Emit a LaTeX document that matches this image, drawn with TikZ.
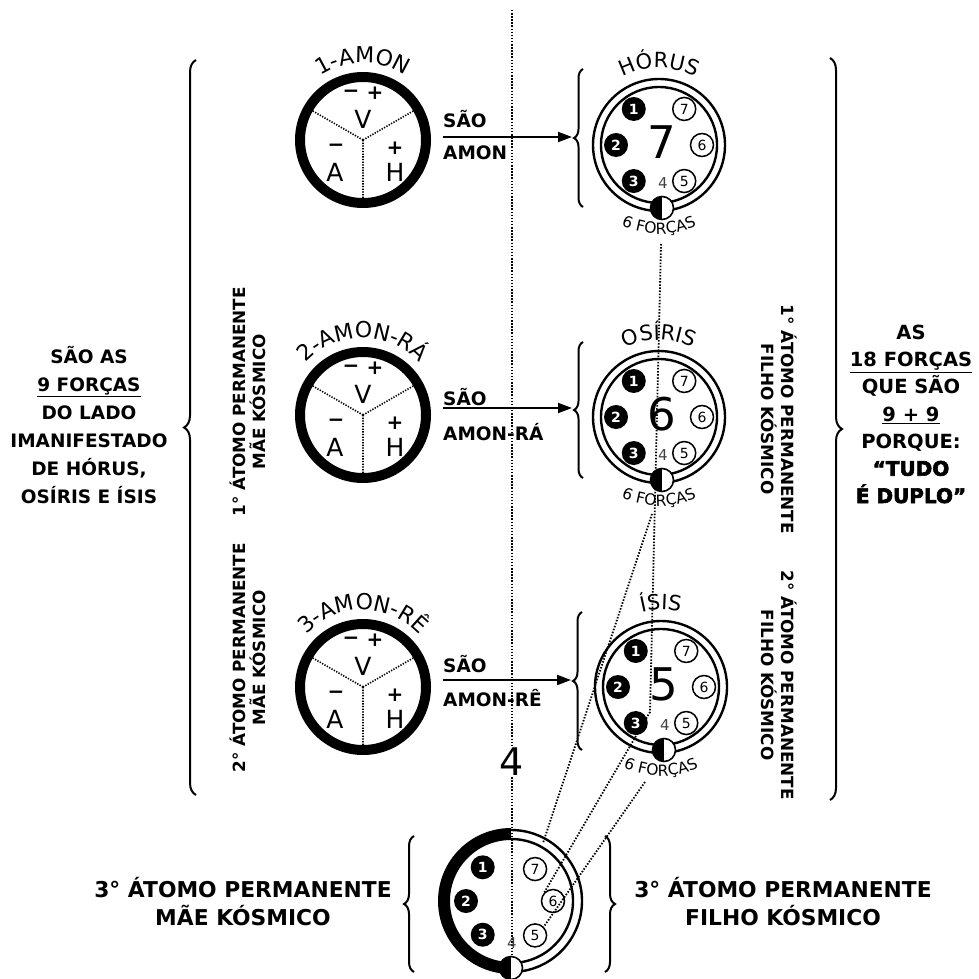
\documentclass[tikz,border=0pt]{standalone}
\usepackage{fontspec}
\setmainfont{DejaVu Sans}
\newfontfamily\heavy[BoldFeatures={FakeBold=3}]{DejaVu Sans}
\usetikzlibrary{decorations.pathreplacing,decorations.text,arrows.meta,calc}
\newcommand\fsz[1]{\fontsize{#1}{#1}\selectfont}
\tikzset{
  brc/.style={decorate, decoration={brace, amplitude=#1}, line width=2pt},
  dotl/.style={line width=1.8pt, dash pattern=on 1.5pt off 1.6pt},
  dotin/.style={line width=1.6pt, dash pattern=on 1.3pt off 1.4pt},
  ring/.style={line width=2.4pt},
  blk/.style={circle, fill=black, text=white, minimum size=24pt, inner sep=0pt, font=\bfseries\fsz{14}},
  wht/.style={circle, draw=black, line width=1.5pt, fill=white, minimum size=23pt, inner sep=0pt, font=\fsz{14}},
  halfd/.style={circle, draw=black, line width=1.6pt, fill=white, minimum size=23pt, inner sep=0pt,
     path picture={\fill[black] (path picture bounding box.north) rectangle (path picture bounding box.south west);}},
  lbl/.style={font=\bfseries\fontsize{18.5}{28}\selectfont, align=center, inner sep=0pt},
  vlbl/.style={font=\bfseries\fontsize{16.8}{19.5}\selectfont, align=center, inner sep=0pt},
  sao/.style={font=\bfseries\fsz{18.5}, anchor=west, inner sep=0pt},
  sym/.style={font=\bfseries\fsz{20}, inner sep=0pt},
  big/.style={font=\fsz{25}, inner sep=0pt},
  arr/.style={line width=2pt, -{Triangle[length=14pt,width=10pt]}},
}
\newcommand\amon[4]{%
  \coordinate (#1) at (#2,#3);
  \draw[line width=10pt] (#1) circle (63);
  \draw[dotin] (#1) -- ++(150:58) (#1) -- ++(30:58) (#1) -- ++(270:58);
  \node[big] (#1V) at ([shift={(0,21)}]#1) {V};
  \node[sym] (#1vm) at ([shift={(-12,46)}]#1) {−};
  \node[sym] (#1vp) at ([shift={(12,47)}]#1) {+};
  \node[big] (#1A) at ([shift={(-28,-32)}]#1) {A};
  \node[sym] (#1am) at ([shift={(-27,-8)}]#1) {−};
  \node[big] (#1H) at ([shift={(32,-32)}]#1) {H};
  \node[sym] (#1hp) at ([shift={(32,-8)}]#1) {+};
  \path[decorate, decoration={text along path, text align=center, text={|\fsz{22}|#4}}]
     ([shift={(170:77)}]#1) arc[start angle=170, end angle=10, radius=77];
}
\newcommand\dbl[5]{%
  \coordinate (#1) at (#2,#3);
  \draw[ring] (#1) circle (66) (#1) circle (58);
  \node[blk] (#1a) at ([shift={(125:44)}]#1) {1};
  \node[blk] (#1b) at ([shift={(180:43)}]#1) {2};
  \node[blk] (#1c) at ([shift={(235:44)}]#1) {3};
  \node[wht] (#1g) at ([shift={(55:44)}]#1) {7};
  \node[wht] (#1f) at ([shift={(0:43)}]#1) {6};
  \node[wht] (#1e) at ([shift={(305:44)}]#1) {5};
  \node[font=\fsz{45}] (#1n) at ([shift={(3,3)}]#1) {#4};
  \node[font=\fsz{15}, text=black!75] (#1four) at ([shift={(4,-38)}]#1) {4};
  \node[halfd] (#1d) at ([shift={(3,-63)}]#1) {};
  \path[decorate, decoration={text along path, text align=center, text={|\fsz{21}|#5}}]
     ([shift={(160:77)}]#1) arc[start angle=160, end angle=20, radius=77];
  \path[decorate, decoration={text along path, text align=center, text={|\fsz{15.5}|6 FORÇAS}}]
     ([shift={(205:89)}]#1) arc[start angle=205, end angle=335, radius=89];
}
\begin{document}
\begin{tikzpicture}[x=1pt,y=1pt]
\useasboundingbox[fill=white] (0,0) rectangle (979,-979);

% central dotted line and big 4
\node[font=\fsz{38}, inner sep=1pt] (four) at (512,-762) {4};
\coordinate (ctop) at (512,-10);
\coordinate (cbot) at (512,-979);
\draw[dotl] (ctop) -- (four.north);
\draw[dotl] (four.south) -- (cbot);

% AMON circles
\amon{am1}{363}{-140}{1-AMON}
\amon{am2}{363}{-415}{2-AMON-RÁ}
\amon{am3}{363}{-687}{3-AMON-RÊ}

% double circles
\dbl{hor}{659}{-145}{7}{HÓRUS}
\dbl{osi}{659}{-417}{6}{OSÍRIS}
\dbl{isi}{661}{-687}{5}{ÍSIS}

% small braces
\draw[brc=9pt] (583,-207) -- (583,-69);
\draw[brc=9pt] (583,-478) -- (583,-342);
\draw[brc=9pt] (582,-750) -- (582,-612);

% SÃO labels and arrows
\node[sao] (sao1) at (443,-119) {SÃO};
\node[sao] (amn1) at (443,-153) {AMON};
\node[sao] (sao2) at (443,-397) {SÃO};
\node[sao] (amn2) at (443,-432) {AMON-RÁ};
\node[sao] (sao3) at (443,-664) {SÃO};
\node[sao] (amn3) at (443,-698) {AMON-RÊ};
\coordinate (s1) at (443,-137); \coordinate (t1) at (572,-137);
\coordinate (s2) at (443,-408); \coordinate (t2) at (572,-408);
\coordinate (s3) at (443,-680); \coordinate (t3) at (571,-680);
\draw[arr] (s1) -- (t1);
\draw[arr] (s2) -- (t2);
\draw[arr] (s3) -- (t3);

% big braces
\draw[brc=12pt] (196,-795) -- (196,-60);
\draw[brc=12pt] (830,-58) -- (830,-800);

% left text
\node[lbl] (lt) at (89,-425) {SÃO AS\\\underline{9 FORÇAS}\\DO LADO\\IMANIFESTADO\\DE HÓRUS,\\OSÍRIS E ÍSIS};
% right text
\node[lbl, font=\bfseries\fontsize{19.5}{27.3}\selectfont] (rt) at (911,-414) {AS\\\underline{18 FORÇAS}\\QUE SÃO\\\underline{9 + 9}\\PORQUE:\\{\heavy\bfseries\fontsize{20}{27.3}\selectfont “TUDO}\\{\heavy\bfseries\fontsize{20}{27.3}\selectfont É DUPLO”}};

% vertical labels
\node[vlbl, rotate=90] (vl1) at (248,-402) {1° ÁTOMO PERMANENTE\\MÃE KÓSMICO};
\node[vlbl, rotate=90] (vl2) at (248,-658) {2° ÁTOMO PERMANENTE\\MÃE KÓSMICO};
\node[vlbl, rotate=-90] (vr1) at (779,-419) {1° ÁTOMO PERMANENTE\\FILHO KÓSMICO};
\node[vlbl, rotate=-90] (vr2) at (779,-685) {2° ÁTOMO PERMANENTE\\FILHO KÓSMICO};

% bottom atom
\coordinate (B) at (511,-901);
\draw[line width=12pt] ([shift={(90:67)}]B) arc[start angle=90,end angle=270,radius=67];
\draw[ring] ([shift={(90:71)}]B) arc[start angle=90,end angle=-90,radius=71];
\draw[ring] ([shift={(90:62)}]B) arc[start angle=90,end angle=-90,radius=62];
\node[blk] (ba) at ([shift={(130:44)}]B) {1};
\node[blk] (bb) at ([shift={(180:45)}]B) {2};
\node[blk] (bc) at ([shift={(230:44)}]B) {3};
\node[wht] (bg) at ([shift={(53:40)}]B) {7};
\node[wht] (bf) at ([shift={(0:42)}]B) {6};
\node[wht] (be) at ([shift={(305:42)}]B) {5};
\node[font=\fsz{15}, text=black!75] (bfour) at ([shift={(1,-42)}]B) {4};
\node[halfd] (bd) at ([shift={(0,-67)}]B) {};
\coordinate (bring) at (543,-843);

% bottom braces and labels
\draw[brc=10pt] (414,-972) -- (414,-836);
\draw[brc=10pt] (605,-836) -- (605,-972);
\node[lbl, font=\bfseries\fontsize{21.8}{28}\selectfont] (bl) at (243,-902) {3° ÁTOMO PERMANENTE\\MÃE KÓSMICO};
\node[lbl, font=\bfseries\fontsize{21.8}{28}\selectfont] (br) at (783,-902) {3° ÁTOMO PERMANENTE\\FILHO KÓSMICO};

% dotted connectors (start just below each "6 FORÇAS")
\coordinate (hs) at (661,-244);
\coordinate (os) at (652,-514);
\coordinate (is) at (645,-782);
\coordinate (bend) at (650,-712);
\draw[dotl] (hs) -- (bend) -- (bf.north west);
\draw[dotl] (os) -- (bring);
\draw[dotl] (is) -- (be.north east);
\end{tikzpicture}
\end{document}
